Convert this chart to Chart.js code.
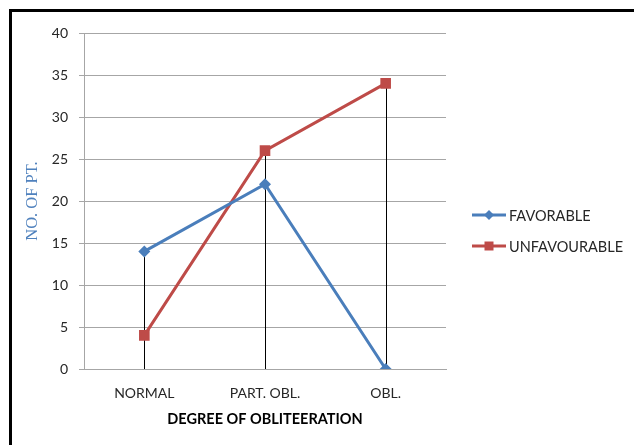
<!DOCTYPE html>
<html>
<head>
<meta charset="utf-8">
<script src="https://cdn.jsdelivr.net/npm/chart.js@4.4.1/dist/chart.umd.min.js"></script>
<style>
  html, body { margin: 0; padding: 0; background: #fff; overflow: hidden; }
  #wrap { position: relative; width: 634px; height: 445px; }
  #frame { position: absolute; left: 9px; top: 9px; width: 660px; height: 470px; border: 3px solid #000; box-sizing: border-box; }
  canvas { position: absolute; left: 0; top: 0; }
</style>
</head>
<body>
<div id="wrap">
  <div id="frame"></div>
  <canvas id="chart" width="634" height="445"></canvas>
</div>
<script>
const categories = ["NORMAL", "PART. OBL.", "OBL."]
const favorable = [14, 22, 0]
const unfavourable = [4, 26, 34]
const yTicks = [0, 5, 10, 15, 20, 25, 30, 35, 40]

const blue = "#4a7ebb"
const red = "#be4b48"
const gridColor = "#a6a6a6"
const textColor = "#262626"

// black drop lines from the highest point of each category down to the axis
const dropLines = {
   id: "dropLines",
   beforeDatasetsDraw(chart) {
      const { ctx, scales: { x, y } } = chart
      ctx.save()
      ctx.strokeStyle = "#000"
      ctx.lineWidth = 1
      categories.forEach((c, i) => {
         const top = Math.max(...chart.data.datasets.map(d => d.data[i]))
         const px = Math.round(x.getPixelForValue(i)) + 0.5
         ctx.beginPath()
         ctx.moveTo(px, y.getPixelForValue(top))
         ctx.lineTo(px, y.getPixelForValue(0))
         ctx.stroke()
      })
      ctx.restore()
   }
}

// legend drawn by hand: line with marker, like the spreadsheet one
const sideLegend = {
   id: "sideLegend",
   afterDraw(chart) {
      const { ctx } = chart
      ctx.save()
      chart.data.datasets.forEach((d, i) => {
         const ly = 215 + i * 31
         ctx.strokeStyle = d.borderColor
         ctx.lineWidth = 3
         ctx.beginPath()
         ctx.moveTo(472, ly)
         ctx.lineTo(506, ly)
         ctx.stroke()
         ctx.fillStyle = d.borderColor
         ctx.beginPath()
         if (d.pointStyle === "rectRot") {
            ctx.moveTo(489, ly - 5); ctx.lineTo(494, ly); ctx.lineTo(489, ly + 5); ctx.lineTo(484, ly)
         } else {
            ctx.rect(484.5, ly - 4.5, 9, 9)
         }
         ctx.fill()
         ctx.fillStyle = textColor
         ctx.font = "14.5px Lato"
         ctx.textBaseline = "middle"
         ctx.fillText(d.label, 509, ly + 1)
      })
      ctx.restore()
   }
}

new Chart(document.getElementById("chart"), {
   type: "line",
   data: {
      labels: categories,
      datasets: [{
         label: "FAVORABLE",
         data: favorable,
         borderColor: blue,
         backgroundColor: blue,
         borderWidth: 3,
         pointStyle: "rectRot",
         pointRadius: 6,
         pointBorderWidth: 0,
         tension: 0
      }, {
         label: "UNFAVOURABLE",
         data: unfavourable,
         borderColor: red,
         backgroundColor: red,
         borderWidth: 3,
         pointStyle: "rect",
         pointRadius: 7.5,
         pointBorderWidth: 0,
         tension: 0
      }]
   },
   options: {
      responsive: false,
      animation: false,
      layout: { padding: { left: 0, top: 33, right: 188, bottom: 0 } },
      plugins: {
         legend: { display: false },
         tooltip: { enabled: false }
      },
      scales: {
         x: {
            offset: true,
            afterFit: s => { s.height = 76 },
            grid: { display: false },
            border: { display: true, color: gridColor, width: 1 },
            ticks: { color: textColor, font: { family: "Lato", size: 14 }, padding: 8, maxRotation: 0 },
            title: {
               display: true,
               text: "DEGREE OF OBLITEERATION",
               color: "#000",
               font: { family: "Lato", size: 14.5, weight: "bold" },
               padding: { top: 17, bottom: 17 }
            }
         },
         y: {
            min: 0,
            max: 40,
            afterFit: s => { s.width = 84 },
            afterBuildTicks: s => { s.ticks = yTicks.map(v => ({ value: v })) },
            grid: { color: gridColor, tickLength: 5, lineWidth: 1 },
            border: { display: true, color: gridColor, width: 1 },
            ticks: { color: textColor, font: { family: "Lato", size: 14 }, padding: 11 },
            title: {
               display: true,
               text: "NO. OF PT.",
               color: "#4f81bd",
               font: { family: "Liberation Serif", size: 16.5 },
               padding: { top: 23, bottom: 23 }
            }
         }
      }
   },
   plugins: [dropLines, sideLegend]
})
</script>
</body>
</html>
